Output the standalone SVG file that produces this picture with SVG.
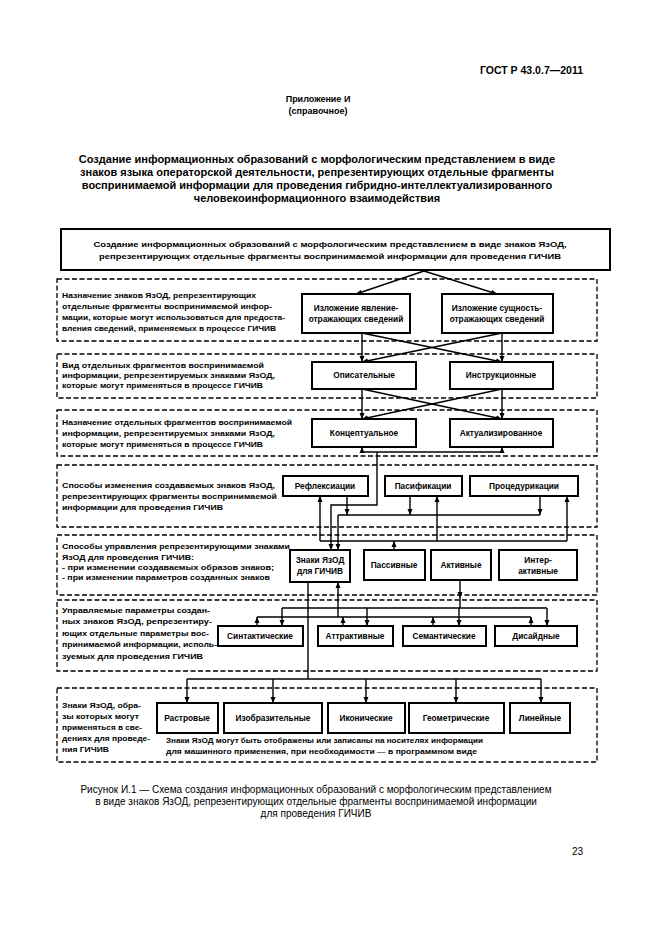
<svg xmlns="http://www.w3.org/2000/svg" width="661" height="935" viewBox="0 0 661 935">
<style>
.t{font-family:"Liberation Sans",Arial,sans-serif;font-weight:bold;font-size:7.8px;fill:#000}
.b{font-family:"Liberation Sans",Arial,sans-serif;font-weight:bold;font-size:8.3px;fill:#000;text-anchor:middle}
.c{text-anchor:middle}
.h{font-family:"Liberation Sans",Arial,sans-serif;font-weight:bold;fill:#000}
.cap{font-family:"Liberation Sans",Arial,sans-serif;font-size:10px;fill:#000;text-anchor:middle}
.band{fill:none;stroke:#000;stroke-width:1.3;stroke-dasharray:5 2.5}
.box{fill:#fff;stroke:#000;stroke-width:2}
.ln{fill:none;stroke:#000;stroke-width:1.4}
.la{fill:none;stroke:#000;stroke-width:1.4;marker-end:url(#ah)}
</style>
<defs>
<marker id="ah" viewBox="0 0 6 6" refX="6" refY="3" markerWidth="6" markerHeight="6" markerUnits="userSpaceOnUse" orient="auto"><path d="M0,0.5 L6,3 L0,5.5 z" fill="#000"/></marker>
</defs>
<rect width="661" height="935" fill="#fff"/>
<g id="header">
<text class="h" x="583" y="74" font-size="10.5" text-anchor="end">ГОСТ Р 43.0.7—2011</text>
<text class="h" x="318" y="102" font-size="9" text-anchor="middle">Приложение И</text>
<text class="h" x="318" y="114" font-size="9" text-anchor="middle">(справочное)</text>
<text class="h" x="317" y="163" font-size="11" text-anchor="middle">Создание информационных образований с морфологическим представлением в виде</text>
<text class="h" x="317" y="176" font-size="11" text-anchor="middle">знаков языка операторской деятельности, репрезентирующих отдельные фрагменты</text>
<text class="h" x="317" y="189" font-size="11" text-anchor="middle">воспринимаемой информации для проведения гибридно-интеллектуализированного</text>
<text class="h" x="317" y="202" font-size="11" text-anchor="middle">человекоинформационного взаимодействия</text>
</g>
<g id="bands">
<rect class="band" x="57" y="279" width="540" height="62"/>
<rect class="band" x="57" y="354" width="540" height="44"/>
<rect class="band" x="57" y="410" width="540" height="46"/>
<rect class="band" x="57" y="465" width="540" height="62"/>
<rect class="band" x="57" y="535" width="540" height="60"/>
<rect class="band" x="57" y="600" width="540" height="71"/>
<rect class="band" x="57" y="688" width="540" height="74"/>
</g>
<g id="band-labels" style="font-family:'Liberation Sans',Arial,sans-serif">
<text class="t" x="62" y="298" textLength="194" lengthAdjust="spacingAndGlyphs">Назначение знаков ЯзОД, репрезентирующих</text>
<text class="t" x="62" y="309" textLength="210" lengthAdjust="spacingAndGlyphs">отдельные фрагменты воспринимаемой инфор-</text>
<text class="t" x="62" y="320" textLength="223" lengthAdjust="spacingAndGlyphs">мации, которые могут использоваться для предоста-</text>
<text class="t" x="62" y="331" textLength="214" lengthAdjust="spacingAndGlyphs">вления сведений, применяемых в процессе ГИЧИВ</text>
<text class="t" x="62" y="368" textLength="202" lengthAdjust="spacingAndGlyphs">Вид отдельных фрагментов воспринимаемой</text>
<text class="t" x="62" y="378" textLength="213" lengthAdjust="spacingAndGlyphs">информации, репрезентируемых знаками ЯзОД,</text>
<text class="t" x="62" y="388" textLength="201" lengthAdjust="spacingAndGlyphs">которые могут применяться в процессе ГИЧИВ</text>
<text class="t" x="62" y="425" textLength="230" lengthAdjust="spacingAndGlyphs">Назначение отдельных фрагментов воспринимаемой</text>
<text class="t" x="62" y="436" textLength="213" lengthAdjust="spacingAndGlyphs">информации, репрезентируемых знаками ЯзОД,</text>
<text class="t" x="62" y="447" textLength="201" lengthAdjust="spacingAndGlyphs">которые могут применяться в процессе ГИЧИВ</text>
<text class="t" x="62" y="488" textLength="213" lengthAdjust="spacingAndGlyphs">Способы изменения создаваемых знаков ЯзОД,</text>
<text class="t" x="62" y="499" textLength="215" lengthAdjust="spacingAndGlyphs">репрезентирующих фрагменты воспринимаемой</text>
<text class="t" x="62" y="510" textLength="161" lengthAdjust="spacingAndGlyphs">информации для проведения ГИЧИВ</text>
<text class="t" x="62" y="549" textLength="228" lengthAdjust="spacingAndGlyphs">Способы управления репрезентирующими знаками</text>
<text class="t" x="62" y="560" textLength="132" lengthAdjust="spacingAndGlyphs">ЯзОД для проведения ГИЧИВ:</text>
<text class="t" x="62" y="570" textLength="212" lengthAdjust="spacingAndGlyphs">- при изменении создаваемых образов знаков;</text>
<text class="t" x="62" y="580" textLength="208" lengthAdjust="spacingAndGlyphs">- при изменении параметров созданных знаков</text>
<text class="t" x="62" y="613" textLength="148" lengthAdjust="spacingAndGlyphs">Управляемые параметры создан-</text>
<text class="t" x="62" y="624" textLength="150" lengthAdjust="spacingAndGlyphs">ных знаков ЯзОД, репрезентиру-</text>
<text class="t" x="62" y="636" textLength="147" lengthAdjust="spacingAndGlyphs">ющих отдельные параметры вос-</text>
<text class="t" x="62" y="647" textLength="155" lengthAdjust="spacingAndGlyphs">принимаемой информации, исполь-</text>
<text class="t" x="62" y="659" textLength="141" lengthAdjust="spacingAndGlyphs">зуемых для проведения ГИЧИВ</text>
<text class="t" x="62" y="708" textLength="79" lengthAdjust="spacingAndGlyphs">Знаки ЯзОД, обра-</text>
<text class="t" x="62" y="719" textLength="77" lengthAdjust="spacingAndGlyphs">зы которых могут</text>
<text class="t" x="62" y="730" textLength="80" lengthAdjust="spacingAndGlyphs">применяться в све-</text>
<text class="t" x="62" y="741" textLength="88" lengthAdjust="spacingAndGlyphs">дениях для проведе-</text>
<text class="t" x="62" y="752" textLength="47" lengthAdjust="spacingAndGlyphs">ния ГИЧИВ</text>
<text class="t" x="166" y="743" textLength="317" lengthAdjust="spacingAndGlyphs">Знаки ЯзОД могут быть отображены или записаны на носителях информации</text>
<text class="t" x="166" y="754" textLength="311" lengthAdjust="spacingAndGlyphs">для машинного применения, при необходимости — в программном виде</text>
</g>
<g id="connectors">
<path class="la" d="M424,271 L356,294"/>
<path class="la" d="M424,271 L497,294"/>
<path class="la" d="M362,333 L362,362"/>
<path class="la" d="M502,333 L502,362"/>
<path class="la" d="M362,333 L502,362"/>
<path class="la" d="M502,333 L362,362"/>
<path class="la" d="M362,389 L362,419"/>
<path class="la" d="M502,389 L502,419"/>
<path class="la" d="M362,389 L502,419"/>
<path class="la" d="M502,389 L362,419"/>
<path class="ln" d="M362,452 L502,452"/>
<path class="la" d="M362,452 L362,447"/>
<path class="la" d="M502,452 L502,447"/>
<path class="la" d="M377,452 L377,505 L331,505 L331,550"/>
<path class="la" d="M347,496 L347,515"/>
<path class="la" d="M410,496 L410,515"/>
<path class="la" d="M540,496 L540,515"/>
<path class="ln" d="M338,515 L540,515"/>
<path class="la" d="M338,515 L338,550"/>
<path class="ln" d="M320,541 L567,541"/>
<path class="la" d="M320,541 L320,496"/>
<path class="la" d="M437,541 L437,496"/>
<path class="la" d="M567,541 L567,496"/>
<path class="la" d="M394,550 L394,541"/>
<path class="ln" d="M308,582 L308,679"/>
<path class="ln" d="M187,679 L541,679"/>
<path class="la" d="M187,679 L187,703"/>
<path class="la" d="M273,679 L273,703"/>
<path class="la" d="M366,679 L366,703"/>
<path class="la" d="M456,679 L456,703"/>
<path class="la" d="M541,679 L541,703"/>
<path class="la" d="M460,580 L460,598"/>
<path class="ln" d="M460,598 L460,608"/>
<path class="ln" d="M282,608 L547,608"/>
<path class="ln" d="M257,617 L531,617"/>
<path class="la" d="M338,617 L338,582"/>
<path class="la" d="M282,608 L282,626"/>
<path class="la" d="M367,608 L367,626"/>
<path class="la" d="M459,608 L459,626"/>
<path class="la" d="M547,608 L547,626"/>
<path class="la" d="M257,626 L257,617"/>
<path class="la" d="M343,626 L343,617"/>
<path class="la" d="M433,626 L433,617"/>
<path class="la" d="M531,626 L531,617"/>
</g>
<g id="n-top"><rect class="box" x="61" y="229" width="549" height="41" stroke-width="1.5"/>
<text class="t c" x="330" y="247" textLength="473" lengthAdjust="spacingAndGlyphs">Создание информационных образований с морфологическим представлением в виде знаков ЯзОД,</text>
<text class="t c" x="330" y="259" textLength="462" lengthAdjust="spacingAndGlyphs">репрезентирующих отдельные фрагменты воспринимаемой информации для проведения ГИЧИВ</text></g>
<g id="n-yavl"><rect class="box" x="302" y="294" width="108" height="39"/>
<text class="b" x="356" y="311">Изложение явление-</text><text class="b" x="356" y="322">отражающих сведений</text></g>
<g id="n-sush"><rect class="box" x="442" y="294" width="111" height="39"/>
<text class="b" x="497" y="311">Изложение сущность-</text><text class="b" x="497" y="322">отражающих сведений</text></g>
<g id="n-opis"><rect class="box" x="312" y="362" width="104" height="27"/>
<text class="b" x="364" y="378">Описательные</text></g>
<g id="n-instr"><rect class="box" x="450" y="362" width="103" height="27"/>
<text class="b" x="501" y="378">Инструкционные</text></g>
<g id="n-konc"><rect class="box" x="312" y="419" width="104" height="28"/>
<text class="b" x="364" y="436">Концептуальное</text></g>
<g id="n-akt"><rect class="box" x="450" y="419" width="103" height="28"/>
<text class="b" x="501" y="436">Актуализированное</text></g>
<g id="n-refl"><rect class="box" x="283" y="476" width="85" height="20"/>
<text class="b" x="325" y="489">Рефлексиации</text></g>
<g id="n-pasif"><rect class="box" x="385" y="476" width="77" height="20"/>
<text class="b" x="423" y="489">Пасификации</text></g>
<g id="n-proc"><rect class="box" x="470" y="476" width="108" height="20"/>
<text class="b" x="524" y="489">Процедурикации</text></g>
<g id="n-znaki"><rect class="box" x="290" y="550" width="60" height="32"/>
<text class="b" x="320" y="563">Знаки ЯзОД</text><text class="b" x="320" y="574">для ГИЧИВ</text></g>
<g id="n-pass"><rect class="box" x="364" y="550" width="61" height="30"/>
<text class="b" x="394" y="568">Пассивные</text></g>
<g id="n-akti"><rect class="box" x="431" y="550" width="60" height="30"/>
<text class="b" x="461" y="568">Активные</text></g>
<g id="n-inter"><rect class="box" x="499" y="550" width="78" height="30"/>
<text class="b" x="538" y="563">Интер-</text><text class="b" x="538" y="574">активные</text></g>
<g id="n-sint"><rect class="box" x="218" y="626" width="85" height="20"/>
<text class="b" x="260" y="639">Синтактические</text></g>
<g id="n-attr"><rect class="box" x="318" y="626" width="75" height="20"/>
<text class="b" x="355" y="639">Аттрактивные</text></g>
<g id="n-sem"><rect class="box" x="403" y="626" width="83" height="20"/>
<text class="b" x="444" y="639">Семантические</text></g>
<g id="n-dis"><rect class="box" x="495" y="626" width="82" height="20"/>
<text class="b" x="536" y="639">Дисайдные</text></g>
<g id="n-rast"><rect class="box" x="157" y="703" width="61" height="30"/>
<text class="b" x="187" y="721">Растровые</text></g>
<g id="n-izob"><rect class="box" x="224" y="703" width="98" height="30"/>
<text class="b" x="273" y="721">Изобразительные</text></g>
<g id="n-ikon"><rect class="box" x="328" y="703" width="77" height="30"/>
<text class="b" x="366" y="721">Иконические</text></g>
<g id="n-geom"><rect class="box" x="409" y="703" width="95" height="30"/>
<text class="b" x="456" y="721">Геометрические</text></g>
<g id="n-lin"><rect class="box" x="510" y="703" width="60" height="30"/>
<text class="b" x="540" y="721">Линейные</text></g>
<g id="caption">
<text class="cap" x="316" y="793">Рисунок  И.1 — Схема создания информационных образований с морфологическим представлением</text>
<text class="cap" x="316" y="805">в виде знаков ЯзОД, репрезентирующих отдельные фрагменты воспринимаемой информации</text>
<text class="cap" x="316" y="817">для проведения ГИЧИВ</text>
<text class="cap" x="583" y="855" style="text-anchor:end">23</text>
</g>
</svg>
